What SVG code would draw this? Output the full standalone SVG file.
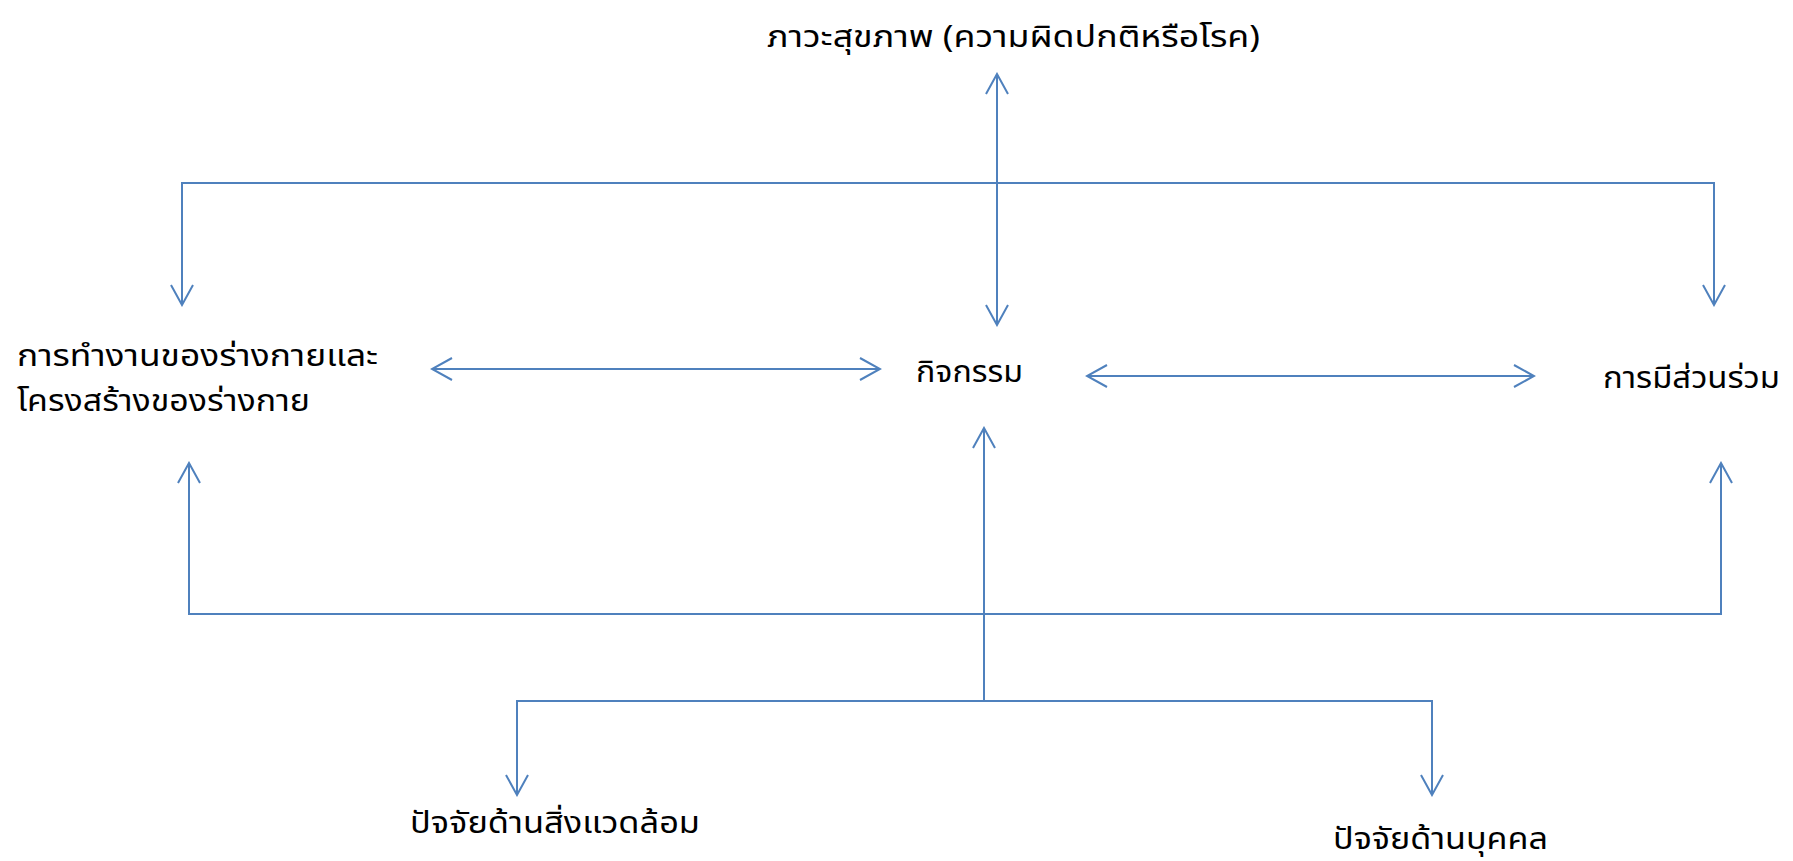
<svg xmlns="http://www.w3.org/2000/svg" width="1793" height="861" viewBox="0 0 1793 861">
<style>
.t{font-family:"Noto Sans Thai","Noto Sans","DejaVu Sans",sans-serif;font-size:30px;fill:#000}
.c{fill:none;stroke:#4F81BD;stroke-width:2}
</style>
<defs>
<marker id="ah" viewBox="-22 -13 24 26" markerWidth="24" markerHeight="26" refX="0" refY="0" orient="auto-start-reverse" markerUnits="userSpaceOnUse">
<path d="M-20,-11 L0,0 L-20,11" fill="none" stroke="#4F81BD" stroke-width="2"/>
</marker>
</defs>
<rect width="1793" height="861" fill="#fff"/>
<g id="connectors">
<path class="c" d="M997,74 L997,325" marker-start="url(#ah)" marker-end="url(#ah)"/>
<path class="c" d="M182,305 L182,183 L1714,183 L1714,305" marker-start="url(#ah)" marker-end="url(#ah)"/>
<path class="c" d="M432,369 L880,369" marker-start="url(#ah)" marker-end="url(#ah)"/>
<path class="c" d="M1087,376 L1534,376" marker-start="url(#ah)" marker-end="url(#ah)"/>
<path class="c" d="M189,463 L189,614 L1721,614 L1721,463" marker-start="url(#ah)" marker-end="url(#ah)"/>
<path class="c" d="M984,428 L984,701" marker-start="url(#ah)"/>
<path class="c" d="M517,795 L517,701 L1432,701 L1432,795" marker-start="url(#ah)" marker-end="url(#ah)"/>
</g>
<g id="node-health"><text class="t" x="767" y="47" textLength="493" lengthAdjust="spacingAndGlyphs">ภาวะสุขภาพ (ความผิดปกติหรือโรค)</text></g>
<g id="node-body"><text class="t" x="17" y="366" textLength="361" lengthAdjust="spacingAndGlyphs">การทำงานของร่างกายและ</text><text class="t" x="17" y="411" textLength="293" lengthAdjust="spacingAndGlyphs">โครงสร้างของร่างกาย</text></g>
<g id="node-activity"><text class="t" x="916" y="382" textLength="107" lengthAdjust="spacingAndGlyphs">กิจกรรม</text></g>
<g id="node-participation"><text class="t" x="1603" y="388" textLength="177" lengthAdjust="spacingAndGlyphs">การมีส่วนร่วม</text></g>
<g id="node-env"><text class="t" x="410" y="833" textLength="290" lengthAdjust="spacingAndGlyphs">ปัจจัยด้านสิ่งแวดล้อม</text></g>
<g id="node-personal"><text class="t" x="1333" y="849" textLength="215" lengthAdjust="spacingAndGlyphs">ปัจจัยด้านบุคคล</text></g>
</svg>
